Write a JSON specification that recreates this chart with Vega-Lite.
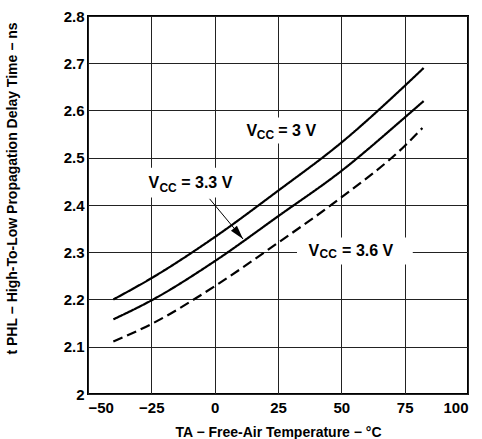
{
  "$schema": "https://vega.github.io/schema/vega-lite/v6.json",
  "width": 380,
  "height": 378,
  "autosize": {"type": "none"},
  "padding": {"left": 88, "top": 16, "right": 14, "bottom": 45},
  "background": "white",
  "config": {
    "view": {"stroke": "black", "strokeWidth": 2},
    "font": "Liberation Sans",
    "axis": {
      "domain": false,
      "ticks": false,
      "grid": true,
      "gridColor": "#222",
      "gridWidth": 1,
      "labelFont": "Liberation Sans",
      "labelFontWeight": "bold",
      "labelFontSize": 15,
      "labelColor": "black",
      "titleFont": "Liberation Sans",
      "titleFontWeight": "bold",
      "titleFontSize": 14,
      "titleColor": "black"
    }
  },
  "datasets": {
    "curves": [
      {"series": "3", "temp": -40, "tphl": 2.200},
      {"series": "3", "temp": -25, "tphl": 2.245},
      {"series": "3", "temp": 0, "tphl": 2.332},
      {"series": "3", "temp": 25, "tphl": 2.430},
      {"series": "3", "temp": 50, "tphl": 2.532},
      {"series": "3", "temp": 75, "tphl": 2.652},
      {"series": "3", "temp": 82.5, "tphl": 2.690},
      {"series": "3.3", "temp": -40, "tphl": 2.158},
      {"series": "3.3", "temp": -25, "tphl": 2.198},
      {"series": "3.3", "temp": 0, "tphl": 2.281},
      {"series": "3.3", "temp": 25, "tphl": 2.376},
      {"series": "3.3", "temp": 50, "tphl": 2.472},
      {"series": "3.3", "temp": 75, "tphl": 2.585},
      {"series": "3.3", "temp": 82.5, "tphl": 2.620},
      {"series": "3.6", "temp": -40, "tphl": 2.111},
      {"series": "3.6", "temp": -25, "tphl": 2.148},
      {"series": "3.6", "temp": 0, "tphl": 2.228},
      {"series": "3.6", "temp": 25, "tphl": 2.320},
      {"series": "3.6", "temp": 50, "tphl": 2.416},
      {"series": "3.6", "temp": 75, "tphl": 2.525},
      {"series": "3.6", "temp": 82, "tphl": 2.563}
    ],
    "boxes": [
      {"x1": 11.5, "x2": 41.7, "y1": 2.530, "y2": 2.585},
      {"x1": -27.4, "x2": 7.9, "y1": 2.416, "y2": 2.479},
      {"x1": 32.5, "x2": 78.2, "y1": 2.274, "y2": 2.331}
    ],
    "bigtext": [
      {"t": "V", "x": 12.6, "y": 2.547},
      {"t": "= 3 V", "x": 25.1, "y": 2.547},
      {"t": "V", "x": -26.1, "y": 2.436},
      {"t": "= 3.3 V", "x": -13.2, "y": 2.436},
      {"t": "V", "x": 37.0, "y": 2.293},
      {"t": "= 3.6 V", "x": 50.3, "y": 2.293}
    ],
    "subtext": [
      {"t": "CC", "x": 16.6, "y": 2.540},
      {"t": "CC", "x": -21.8, "y": 2.428},
      {"t": "CC", "x": 41.4, "y": 2.287}
    ],
    "arrow": [
      {"x": -2.0, "y": 2.413, "xe": 11.2, "ye": 2.328}
    ]
  },
  "layer": [
    {
      "data": {"name": "boxes"},
      "mark": {"type": "rect", "fill": "white", "stroke": null},
      "encoding": {
        "x": {"field": "x1", "type": "quantitative", "scale": {"domain": [-50, 100], "nice": false},
          "axis": {"values": [-50, -25, 0, 25, 50, 75, 100], "labelPadding": 6,
            "title": "TA − Free-Air Temperature − °C", "titleY": 42, "titleBaseline": "alphabetic"}},
        "x2": {"field": "x2"},
        "y": {"field": "y1", "type": "quantitative", "scale": {"domain": [2, 2.8], "zero": false, "nice": false},
          "axis": {"values": [2, 2.1, 2.2, 2.3, 2.4, 2.5, 2.6, 2.7, 2.8], "format": "~g", "labelPadding": 4,
            "title": "t PHL − High-To-Low Propagation Delay Time − ns", "titleX": -76, "titleY": 172,
            "titleBaseline": "middle", "titleAlign": "center"}},
        "y2": {"field": "y2"}
      }
    },
    {
      "data": {"name": "curves"},
      "mark": {"type": "line", "interpolate": "monotone", "strokeWidth": 2.2, "color": "black"},
      "encoding": {
        "x": {"field": "temp", "type": "quantitative"},
        "y": {"field": "tphl", "type": "quantitative"},
        "detail": {"field": "series"},
        "strokeDash": {"field": "series", "type": "nominal",
          "scale": {"domain": ["3", "3.3", "3.6"], "range": [[1, 0], [1, 0], [10, 5]]}, "legend": null}
      }
    },
    {
      "data": {"name": "arrow"},
      "mark": {"type": "rule", "color": "black", "strokeWidth": 1},
      "encoding": {
        "x": {"field": "x", "type": "quantitative"},
        "y": {"field": "y", "type": "quantitative"},
        "x2": {"field": "xe"},
        "y2": {"field": "ye"}
      }
    },
    {
      "data": {"name": "arrow"},
      "mark": {"type": "point", "shape": "M0,0L0.55,2L-0.55,2Z", "filled": true, "color": "black", "opacity": 1, "size": 200, "angle": 140},
      "encoding": {
        "x": {"field": "xe", "type": "quantitative"},
        "y": {"field": "ye", "type": "quantitative"}
      }
    },
    {
      "data": {"name": "bigtext"},
      "mark": {"type": "text", "align": "left", "baseline": "alphabetic", "font": "Liberation Sans", "fontWeight": "bold", "fontSize": 16, "color": "black"},
      "encoding": {
        "x": {"field": "x", "type": "quantitative"},
        "y": {"field": "y", "type": "quantitative"},
        "text": {"field": "t"}
      }
    },
    {
      "data": {"name": "subtext"},
      "mark": {"type": "text", "align": "left", "baseline": "alphabetic", "font": "Liberation Sans", "fontWeight": "bold", "fontSize": 12, "color": "black"},
      "encoding": {
        "x": {"field": "x", "type": "quantitative"},
        "y": {"field": "y", "type": "quantitative"},
        "text": {"field": "t"}
      }
    }
  ]
}
